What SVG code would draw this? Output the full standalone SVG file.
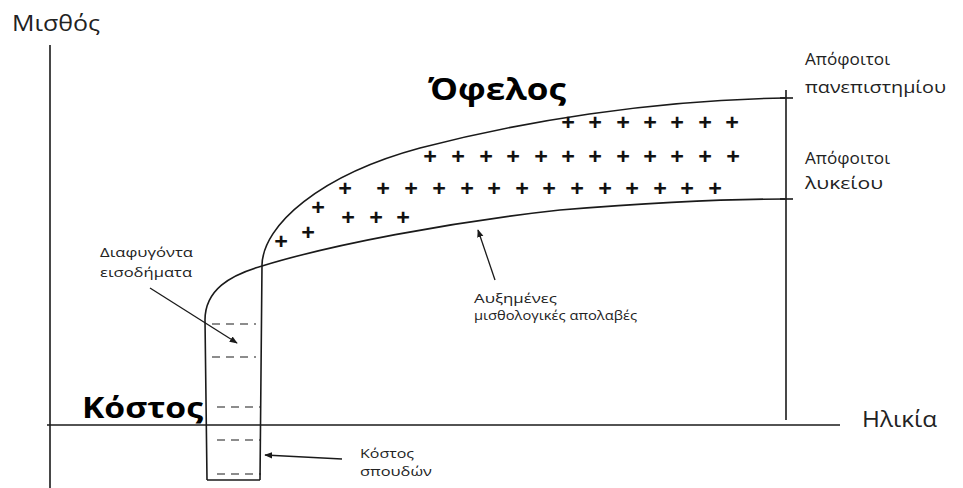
<svg xmlns="http://www.w3.org/2000/svg" width="963" height="488" viewBox="0 0 963 488">
<style>
.ln{fill:none;stroke:#1a1a1a;stroke-width:1.6}
.ds{fill:none;stroke:#1a1a1a;stroke-width:1.2;stroke-dasharray:8,6}
.t{font-family:"Open Sans","Noto Sans",sans-serif;fill:#222}
.big{font-family:"Open Sans","Noto Sans",sans-serif;font-weight:bold;fill:#000}
.pl{font-family:"Open Sans","Noto Sans",sans-serif;font-size:24px;font-weight:bold;fill:#111;text-anchor:middle}
.ar{fill:none;stroke:#1a1a1a;stroke-width:1.3}
</style>
<defs>
<marker id="ah" viewBox="0 0 10 10" refX="9" refY="5" markerWidth="8" markerHeight="8" markerUnits="userSpaceOnUse" orient="auto">
<path d="M0,1 L10,5 L0,9 z" fill="#1a1a1a"/>
</marker>
</defs>
<rect width="963" height="488" fill="#fff"/>
<g id="axes">
<line class="ln" x1="50" y1="45" x2="50" y2="488"/>
<line class="ln" x1="47" y1="425" x2="840" y2="425"/>
<line class="ln" x1="786" y1="90" x2="786" y2="420"/>
<line class="ln" x1="780" y1="98" x2="793" y2="98"/>
<line class="ln" x1="780" y1="199" x2="793" y2="199"/>
<text class="t" x="12" y="31" font-size="21" textLength="88" lengthAdjust="spacingAndGlyphs">Μισθός</text>
<text class="t" x="862" y="427" font-size="21" textLength="75" lengthAdjust="spacingAndGlyphs">Ηλικία</text>
</g>
<g id="university-curve">
<path class="ln" d="M260,480 L262,265 C263,225 320,175 420,148 C520,122 650,100 785,98"/>
</g>
<g id="lyceum-curve">
<path class="ln" d="M207,480 L205,320 C205,290 230,275 262,266 C330,245 450,222 560,210 C660,202 740,199 785,199"/>
</g>
<g id="cost-box">
<line class="ln" x1="207" y1="480" x2="260" y2="480"/>
<line class="ds" x1="212" y1="324" x2="256" y2="324"/>
<line class="ds" x1="212" y1="357" x2="256" y2="357"/>
<line class="ds" x1="217" y1="407" x2="261" y2="407"/>
<line class="ds" x1="217" y1="440" x2="261" y2="440"/>
<line class="ds" x1="217" y1="474" x2="261" y2="474"/>
</g>
<g id="benefit-plus">
<text class="pl" y="131"><tspan x="568">+</tspan><tspan x="595">+</tspan><tspan x="623">+</tspan><tspan x="650">+</tspan><tspan x="677">+</tspan><tspan x="705">+</tspan><tspan x="732">+</tspan></text>
<text class="pl" y="165"><tspan x="430">+</tspan><tspan x="458">+</tspan><tspan x="486">+</tspan><tspan x="513">+</tspan><tspan x="541">+</tspan><tspan x="568">+</tspan><tspan x="595">+</tspan><tspan x="623">+</tspan><tspan x="650">+</tspan><tspan x="677">+</tspan><tspan x="705">+</tspan><tspan x="733">+</tspan></text>
<text class="pl" y="197"><tspan x="345">+</tspan><tspan x="383">+</tspan><tspan x="411">+</tspan><tspan x="439">+</tspan><tspan x="467">+</tspan><tspan x="494">+</tspan><tspan x="522">+</tspan><tspan x="549">+</tspan><tspan x="577">+</tspan><tspan x="605">+</tspan><tspan x="632">+</tspan><tspan x="660">+</tspan><tspan x="687">+</tspan><tspan x="715">+</tspan></text>
<text class="pl" x="318" y="216">+</text>
<text class="pl" y="226"><tspan x="348">+</tspan><tspan x="376">+</tspan><tspan x="403">+</tspan></text>
<text class="pl" x="308" y="241">+</text>
<text class="pl" x="281" y="250">+</text>
</g>
<g id="labels">
<text class="big" x="428" y="100" font-size="30" textLength="138" lengthAdjust="spacingAndGlyphs">Όφελος</text>
<text class="big" x="82" y="418" font-size="28" textLength="121" lengthAdjust="spacingAndGlyphs">Κόστος</text>
<text class="t" x="805" y="65" font-size="17" textLength="85" lengthAdjust="spacingAndGlyphs">Απόφοιτοι</text>
<text class="t" x="805" y="93" font-size="17" textLength="141" lengthAdjust="spacingAndGlyphs">πανεπιστημίου</text>
<text class="t" x="805" y="164" font-size="17" textLength="85" lengthAdjust="spacingAndGlyphs">Απόφοιτοι</text>
<text class="t" x="805" y="189" font-size="17" textLength="78" lengthAdjust="spacingAndGlyphs">λυκείου</text>
<text class="t" x="100" y="257" font-size="13.5" textLength="93" lengthAdjust="spacingAndGlyphs">Διαφυγόντα</text>
<text class="t" x="100" y="277" font-size="13.5" textLength="92" lengthAdjust="spacingAndGlyphs">εισοδήματα</text>
<text class="t" x="474" y="303" font-size="12.5" textLength="83" lengthAdjust="spacingAndGlyphs">Αυξημένες</text>
<text class="t" x="474" y="320" font-size="12.5" textLength="163" lengthAdjust="spacingAndGlyphs">μισθολογικές απολαβές</text>
<text class="t" x="360" y="458" font-size="13.5" textLength="54" lengthAdjust="spacingAndGlyphs">Κόστος</text>
<text class="t" x="360" y="476" font-size="13.5" textLength="72" lengthAdjust="spacingAndGlyphs">σπουδών</text>
</g>
<g id="connectors">
<line class="ar" x1="150" y1="288" x2="237" y2="343" marker-end="url(#ah)"/>
<line class="ar" x1="495" y1="280" x2="478" y2="230" marker-end="url(#ah)"/>
<line class="ar" x1="342" y1="459" x2="265" y2="455" marker-end="url(#ah)"/>
</g>
</svg>
